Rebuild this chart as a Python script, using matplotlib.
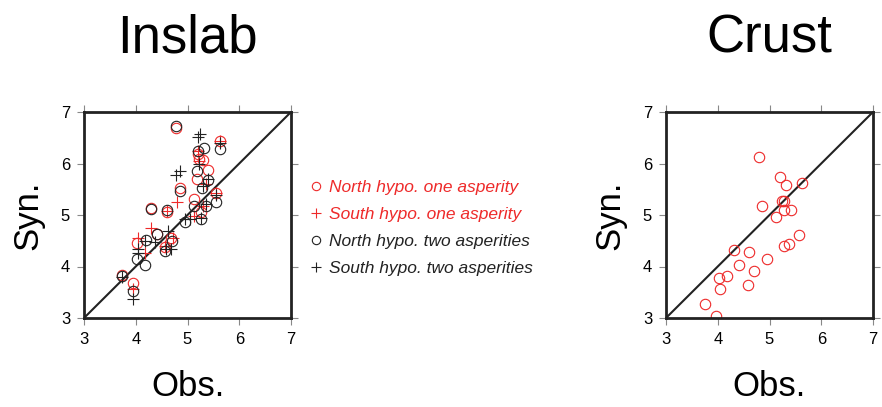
import matplotlib
matplotlib.use('Agg')
import matplotlib.pyplot as plt
from matplotlib.lines import Line2D

plt.rcParams['font.family'] = ['Liberation Sans', 'DejaVu Sans']

RED = '#ee2a2a'
BLACK = '#222222'

# Inslab: North hypo. one asperity (red circles)
in_nr_obs = [4.78, 5.62, 5.20, 5.22, 5.29, 5.40, 5.19, 4.86, 5.12, 5.55, 4.29, 4.61,
             4.41, 4.69, 4.03, 3.74, 3.94, 5.26, 4.56]
in_nr_syn = [6.69, 6.43, 6.19, 6.09, 6.06, 5.88, 5.69, 5.53, 5.32, 5.42, 5.14, 5.06,
             4.64, 4.56, 4.45, 3.84, 3.67, 5.05, 4.38]
# Inslab: South hypo. one asperity (red plus)
in_sr_obs = [5.63, 5.20, 5.22, 4.80, 4.61, 5.29, 4.30, 4.04, 4.17, 3.94, 5.55, 5.13,
             4.72, 4.56, 5.35]
in_sr_syn = [6.43, 6.25, 6.05, 5.26, 5.08, 5.18, 4.74, 4.56, 4.27, 3.56, 5.43, 4.99,
             4.56, 4.40, 5.60]
# Inslab: North hypo. two asperities (black circles)
in_nb_obs = [4.78, 5.31, 5.21, 5.62, 5.18, 5.39, 5.28, 4.85, 5.12, 5.35, 5.55, 4.61,
             4.29, 4.96, 5.26, 4.42, 4.71, 4.56, 4.19, 4.03, 4.17, 3.74, 3.94]
in_nb_syn = [6.72, 6.31, 6.25, 6.29, 5.86, 5.67, 5.52, 5.47, 5.18, 5.18, 5.26, 5.10,
             5.12, 4.86, 4.92, 4.63, 4.50, 4.31, 4.51, 4.14, 4.03, 3.82, 3.53]
# Inslab: South hypo. two asperities (black plus)
in_sb_obs = [5.25, 5.20, 5.62, 5.23, 4.85, 4.78, 5.39, 5.29, 5.55, 5.35, 5.05, 5.26,
             4.96, 4.62, 4.17, 4.69, 4.04, 4.04, 4.38, 3.74, 3.94, 4.58]
in_sb_syn = [6.58, 6.51, 6.40, 5.99, 5.86, 5.77, 5.69, 5.57, 5.38, 5.21, 4.92, 4.95,
             4.92, 4.69, 4.50, 4.34, 4.34, 4.27, 4.47, 3.79, 3.36, 4.34]

# Crust (red circles)
cr_obs = [4.79, 5.21, 5.32, 5.63, 5.24, 5.28, 4.86, 5.28, 5.41, 5.12, 5.57, 5.37,
          5.28, 4.31, 4.61, 4.96, 4.41, 4.70, 4.18, 4.03, 4.05, 4.58, 3.76, 3.96]
cr_syn = [6.13, 5.74, 5.59, 5.63, 5.27, 5.27, 5.17, 5.10, 5.09, 4.97, 4.62, 4.44,
          4.39, 4.33, 4.29, 4.15, 4.02, 3.91, 3.81, 3.77, 3.56, 3.65, 3.27, 3.04]

legend_labels = ['North hypo. one asperity', 'South hypo. one asperity',
                 'North hypo. two asperities', 'South hypo. two asperities']
ticks = [3, 4, 5, 6, 7]

fig = plt.figure(figsize=(8.82, 4.07), dpi=100)
ax1 = fig.add_axes([84 / 882, 89 / 407, 207 / 882, 206 / 407])
ax2 = fig.add_axes([666 / 882, 89 / 407, 207 / 882, 206 / 407])


def style(ax, title):
    ax.plot([3, 7], [3, 7], color=BLACK, lw=1.5, zorder=1)
    ax.set_xlim(3, 7)
    ax.set_ylim(3, 7)
    ax.set_xticks(ticks)
    ax.set_yticks(ticks)
    ax.tick_params(direction='out', length=5, width=0.8, color='#888888',
                   labelsize=12, top=True, right=True, pad=5)
    for s in ax.spines.values():
        s.set_linewidth(2)
        s.set_color(BLACK)
    ax.set_xlabel('Obs.', fontsize=25, labelpad=17)
    ax.set_ylabel('Syn.', fontsize=25, labelpad=12)
    ax.set_title(title, fontsize=38, pad=43)


ms = 7.5
ax1.plot(in_nr_obs, in_nr_syn, 'o', mfc='none', mec=RED, ms=ms, mew=0.8)
ax1.plot(in_sr_obs, in_sr_syn, '+', color=RED, ms=ms + 1, mew=0.8)
ax1.plot(in_nb_obs, in_nb_syn, 'o', mfc='none', mec=BLACK, ms=ms, mew=0.8)
ax1.plot(in_sb_obs, in_sb_syn, '+', color=BLACK, ms=ms + 1, mew=0.8)
style(ax1, 'Inslab')

ax2.plot(cr_obs, cr_syn, 'o', mfc='none', mec=RED, ms=ms, mew=0.8)
style(ax2, 'Crust')

handles = [
    Line2D([], [], ls='none', marker='o', mfc='none', mec=RED, ms=6, mew=0.8),
    Line2D([], [], ls='none', marker='+', color=RED, ms=7, mew=0.8),
    Line2D([], [], ls='none', marker='o', mfc='none', mec=BLACK, ms=6, mew=0.8),
    Line2D([], [], ls='none', marker='+', color=BLACK, ms=7, mew=0.8),
]
leg = fig.legend(handles, legend_labels, loc='center left',
                 bbox_to_anchor=(293 / 882, 1 - 228 / 407), frameon=False,
                 prop={'size': 12.5, 'style': 'italic'}, handlelength=0.8,
                 handletextpad=0.4, labelspacing=0.68)
for t, c in zip(leg.get_texts(), [RED, RED, BLACK, BLACK]):
    t.set_color(c)

plt.savefig('out.png', dpi=100)
plt.close()
